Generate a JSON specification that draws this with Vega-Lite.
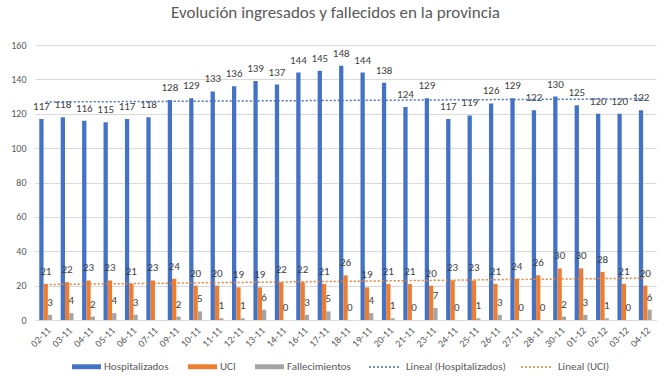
{
  "$schema": "https://vega.github.io/schema/vega-lite/v6.json",
  "width": 621,
  "height": 275,
  "autosize": {"type": "none"},
  "padding": {"left": 35, "top": 45, "right": 14, "bottom": 57},
  "background": "white",
  "config": {
    "view": {"stroke": null},
    "font": "Liberation Sans Narrow, Carlito, Lato, sans-serif"
  },
  "title": {
    "text": "Evolución ingresados y fallecidos en la provincia",
    "font": "Liberation Sans Narrow, Carlito, Lato, sans-serif",
    "fontSize": 17,
    "fontWeight": "normal",
    "color": "#595959",
    "anchor": "middle",
    "dx": -10,
    "offset": 18
  },
  "data": {
    "values": [
      {"fecha": "02-11", "serie": "Hospitalizados", "valor": 117},
      {"fecha": "03-11", "serie": "Hospitalizados", "valor": 118},
      {"fecha": "04-11", "serie": "Hospitalizados", "valor": 116},
      {"fecha": "05-11", "serie": "Hospitalizados", "valor": 115},
      {"fecha": "06-11", "serie": "Hospitalizados", "valor": 117},
      {"fecha": "07-11", "serie": "Hospitalizados", "valor": 118},
      {"fecha": "09-11", "serie": "Hospitalizados", "valor": 128},
      {"fecha": "10-11", "serie": "Hospitalizados", "valor": 129},
      {"fecha": "11-11", "serie": "Hospitalizados", "valor": 133},
      {"fecha": "12-11", "serie": "Hospitalizados", "valor": 136},
      {"fecha": "13-11", "serie": "Hospitalizados", "valor": 139},
      {"fecha": "14-11", "serie": "Hospitalizados", "valor": 137},
      {"fecha": "16-11", "serie": "Hospitalizados", "valor": 144},
      {"fecha": "17-11", "serie": "Hospitalizados", "valor": 145},
      {"fecha": "18-11", "serie": "Hospitalizados", "valor": 148},
      {"fecha": "19-11", "serie": "Hospitalizados", "valor": 144},
      {"fecha": "20-11", "serie": "Hospitalizados", "valor": 138},
      {"fecha": "21-11", "serie": "Hospitalizados", "valor": 124},
      {"fecha": "23-11", "serie": "Hospitalizados", "valor": 129},
      {"fecha": "24-11", "serie": "Hospitalizados", "valor": 117},
      {"fecha": "25-11", "serie": "Hospitalizados", "valor": 119},
      {"fecha": "26-11", "serie": "Hospitalizados", "valor": 126},
      {"fecha": "27-11", "serie": "Hospitalizados", "valor": 129},
      {"fecha": "28-11", "serie": "Hospitalizados", "valor": 122},
      {"fecha": "30-11", "serie": "Hospitalizados", "valor": 130},
      {"fecha": "01-12", "serie": "Hospitalizados", "valor": 125},
      {"fecha": "02-12", "serie": "Hospitalizados", "valor": 120},
      {"fecha": "03-12", "serie": "Hospitalizados", "valor": 120},
      {"fecha": "04-12", "serie": "Hospitalizados", "valor": 122},
      {"fecha": "02-11", "serie": "UCI", "valor": 21},
      {"fecha": "03-11", "serie": "UCI", "valor": 22},
      {"fecha": "04-11", "serie": "UCI", "valor": 23},
      {"fecha": "05-11", "serie": "UCI", "valor": 23},
      {"fecha": "06-11", "serie": "UCI", "valor": 21},
      {"fecha": "07-11", "serie": "UCI", "valor": 23},
      {"fecha": "09-11", "serie": "UCI", "valor": 24},
      {"fecha": "10-11", "serie": "UCI", "valor": 20},
      {"fecha": "11-11", "serie": "UCI", "valor": 20},
      {"fecha": "12-11", "serie": "UCI", "valor": 19},
      {"fecha": "13-11", "serie": "UCI", "valor": 19},
      {"fecha": "14-11", "serie": "UCI", "valor": 22},
      {"fecha": "16-11", "serie": "UCI", "valor": 22},
      {"fecha": "17-11", "serie": "UCI", "valor": 21},
      {"fecha": "18-11", "serie": "UCI", "valor": 26},
      {"fecha": "19-11", "serie": "UCI", "valor": 19},
      {"fecha": "20-11", "serie": "UCI", "valor": 21},
      {"fecha": "21-11", "serie": "UCI", "valor": 21},
      {"fecha": "23-11", "serie": "UCI", "valor": 20},
      {"fecha": "24-11", "serie": "UCI", "valor": 23},
      {"fecha": "25-11", "serie": "UCI", "valor": 23},
      {"fecha": "26-11", "serie": "UCI", "valor": 21},
      {"fecha": "27-11", "serie": "UCI", "valor": 24},
      {"fecha": "28-11", "serie": "UCI", "valor": 26},
      {"fecha": "30-11", "serie": "UCI", "valor": 30},
      {"fecha": "01-12", "serie": "UCI", "valor": 30},
      {"fecha": "02-12", "serie": "UCI", "valor": 28},
      {"fecha": "03-12", "serie": "UCI", "valor": 21},
      {"fecha": "04-12", "serie": "UCI", "valor": 20},
      {"fecha": "02-11", "serie": "Fallecimientos", "valor": 3},
      {"fecha": "03-11", "serie": "Fallecimientos", "valor": 4},
      {"fecha": "04-11", "serie": "Fallecimientos", "valor": 2},
      {"fecha": "05-11", "serie": "Fallecimientos", "valor": 4},
      {"fecha": "06-11", "serie": "Fallecimientos", "valor": 3},
      {"fecha": "09-11", "serie": "Fallecimientos", "valor": 2},
      {"fecha": "10-11", "serie": "Fallecimientos", "valor": 5},
      {"fecha": "11-11", "serie": "Fallecimientos", "valor": 1},
      {"fecha": "12-11", "serie": "Fallecimientos", "valor": 1},
      {"fecha": "13-11", "serie": "Fallecimientos", "valor": 6},
      {"fecha": "14-11", "serie": "Fallecimientos", "valor": 0},
      {"fecha": "16-11", "serie": "Fallecimientos", "valor": 3},
      {"fecha": "17-11", "serie": "Fallecimientos", "valor": 5},
      {"fecha": "18-11", "serie": "Fallecimientos", "valor": 0},
      {"fecha": "19-11", "serie": "Fallecimientos", "valor": 4},
      {"fecha": "20-11", "serie": "Fallecimientos", "valor": 1},
      {"fecha": "21-11", "serie": "Fallecimientos", "valor": 0},
      {"fecha": "23-11", "serie": "Fallecimientos", "valor": 7},
      {"fecha": "24-11", "serie": "Fallecimientos", "valor": 0},
      {"fecha": "25-11", "serie": "Fallecimientos", "valor": 1},
      {"fecha": "26-11", "serie": "Fallecimientos", "valor": 3},
      {"fecha": "27-11", "serie": "Fallecimientos", "valor": 0},
      {"fecha": "28-11", "serie": "Fallecimientos", "valor": 0},
      {"fecha": "30-11", "serie": "Fallecimientos", "valor": 2},
      {"fecha": "01-12", "serie": "Fallecimientos", "valor": 3},
      {"fecha": "02-12", "serie": "Fallecimientos", "valor": 1},
      {"fecha": "03-12", "serie": "Fallecimientos", "valor": 0},
      {"fecha": "04-12", "serie": "Fallecimientos", "valor": 6}
    ]
  },
  "layer": [
    {
      "mark": {"type": "bar"},
      "encoding": {
        "x": {
          "field": "fecha", "type": "nominal", "sort": null,
          "scale": {"paddingInner": 0.4, "paddingOuter": 0.2},
          "axis": {
            "title": null, "labelAngle": -45, "labelFontSize": 10,
            "labelColor": "#595959", "ticks": false, "domainColor": "#D9D9D9",
            "labelPadding": 5, "grid": false
          }
        },
        "xOffset": {
          "field": "serie", "type": "nominal",
          "scale": {"domain": ["Hospitalizados", "UCI", "Fallecimientos"]}
        },
        "y": {
          "field": "valor", "type": "quantitative",
          "scale": {"domain": [0, 160], "nice": false},
          "axis": {
            "title": null, "values": [0, 20, 40, 60, 80, 100, 120, 140, 160],
            "labelOverlap": false,
            "labelFontSize": 10, "labelColor": "#595959", "ticks": false,
            "domain": false, "gridColor": "#D9D9D9", "labelPadding": 9
          }
        },
        "fill": {
          "field": "serie", "type": "nominal",
          "scale": {
            "domain": ["Hospitalizados", "UCI", "Fallecimientos"],
            "range": ["#4472C4", "#ED7D31", "#A5A5A5"]
          },
          "legend": {
            "title": null, "orient": "none", "direction": "horizontal",
            "legendX": 37, "legendY": 307, "padding": 0,
            "symbolType": "M-1,-0.17H1V0.17H-1Z", "symbolSize": 841,
            "symbolStrokeWidth": 0, "labelFontSize": 11, "labelColor": "#595959",
            "labelOffset": 3, "columnPadding": 19
          }
        }
      }
    },
    {
      "mark": {"type": "text", "baseline": "middle", "dy": -12, "fontSize": 11, "color": "#404040"},
      "encoding": {
        "x": {
          "field": "fecha", "type": "nominal", "sort": null,
          "scale": {"paddingInner": 0.4, "paddingOuter": 0.2},
          "axis": null
        },
        "xOffset": {
          "field": "serie", "type": "nominal",
          "scale": {"domain": ["Hospitalizados", "UCI", "Fallecimientos"]}
        },
        "y": {
          "field": "valor", "type": "quantitative",
          "axis": {
            "title": null, "values": [0, 20, 40, 60, 80, 100, 120, 140, 160],
            "labelOverlap": false,
            "labelFontSize": 10, "labelColor": "#595959", "ticks": false,
            "domain": false, "gridColor": "#D9D9D9", "labelPadding": 9
          }
        },
        "text": {"field": "valor", "type": "quantitative"}
      }
    },
    {
      "transform": [
        {"window": [{"op": "row_number", "as": "idx"}], "groupby": ["serie"]},
        {"filter": "datum.serie !== 'Fallecimientos'"},
        {"regression": "valor", "on": "idx", "groupby": ["serie"], "method": "linear"}
      ],
      "mark": {"type": "line", "strokeDash": [2, 2], "strokeWidth": 1.5},
      "encoding": {
        "x": {
          "field": "idx", "type": "quantitative",
          "scale": {"domain": [0.5, 29.5], "nice": false, "zero": false},
          "axis": null
        },
        "y": {
          "field": "valor", "type": "quantitative",
          "axis": {
            "title": null, "values": [0, 20, 40, 60, 80, 100, 120, 140, 160],
            "labelOverlap": false,
            "labelFontSize": 10, "labelColor": "#595959", "ticks": false,
            "domain": false, "gridColor": "#D9D9D9", "labelPadding": 9
          }
        },
        "stroke": {
          "field": "serie", "type": "nominal",
          "scale": {"domain": ["Hospitalizados", "UCI"], "range": ["#4472C4", "#ED7D31"]},
          "legend": {
            "title": null, "orient": "none", "direction": "horizontal",
            "legendX": 333, "legendY": 305, "padding": 0,
            "symbolType": "stroke", "symbolSize": 1024, "symbolStrokeWidth": 1.5,
            "symbolDash": [2, 2], "labelFontSize": 11, "labelColor": "#595959",
            "labelOffset": 4, "columnPadding": 12,
            "labelExpr": "'Lineal (' + datum.label + ')'"
          }
        }
      }
    }
  ],
  "resolve": {"scale": {"x": "independent"}}
}
